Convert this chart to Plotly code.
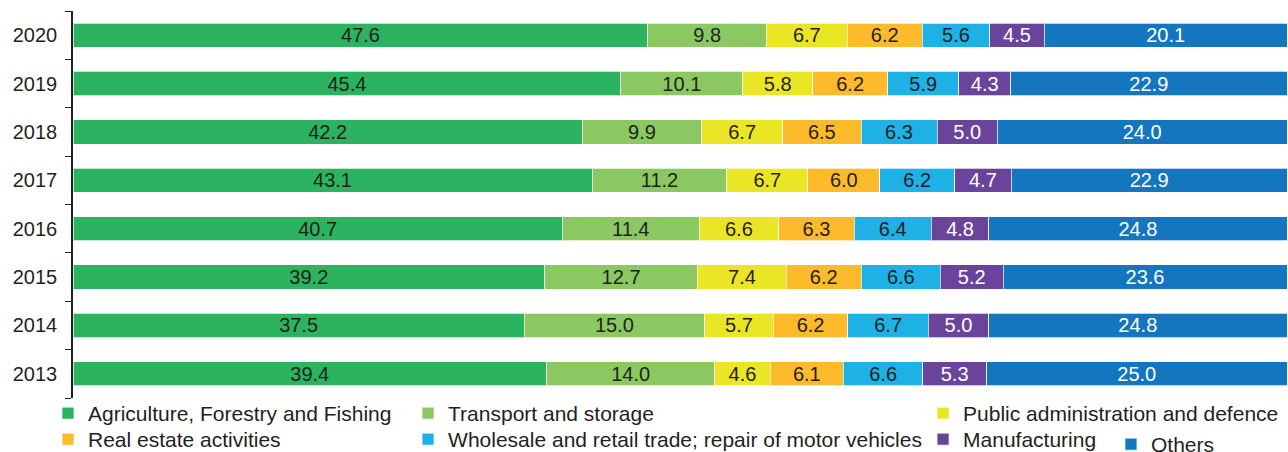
import plotly.graph_objects as go

years = ['2013', '2014', '2015', '2016', '2017', '2018', '2019', '2020']

agriculture = [39.4, 37.5, 39.2, 40.7, 43.1, 42.2, 45.4, 47.6]
transport = [14.0, 15.0, 12.7, 11.4, 11.2, 9.9, 10.1, 9.8]
public_admin = [4.6, 5.7, 7.4, 6.6, 6.7, 6.7, 5.8, 6.7]
real_estate = [6.1, 6.2, 6.2, 6.3, 6.0, 6.5, 6.2, 6.2]
wholesale = [6.6, 6.7, 6.6, 6.4, 6.2, 6.3, 5.9, 5.6]
manufacturing = [5.3, 5.0, 5.2, 4.8, 4.7, 5.0, 4.3, 4.5]
others = [25.0, 24.8, 23.6, 24.8, 22.9, 24.0, 22.9, 20.1]

series = [
    ('Agriculture, Forestry and Fishing', agriculture, '#2bb35f', '#231f20'),
    ('Transport and storage', transport, '#8bc862', '#231f20'),
    ('Public administration and defence', public_admin, '#ebe625', '#231f20'),
    ('Real estate activities', real_estate, '#fdba2b', '#231f20'),
    ('Wholesale and retail trade; repair of motor vehicles', wholesale, '#1eb1e6', '#231f20'),
    ('Manufacturing', manufacturing, '#6a449b', '#ffffff'),
    ('Others', others, '#1476bf', '#ffffff'),
]

# one legend per entry so each sits where it does in the original (paper coords)
legend_pos = [
    (-0.0206, 0.0129), (0.276, 0.0129), (0.7002, 0.0129),
    (-0.0206, -0.0543), (0.276, -0.0543), (0.7002, -0.0543),
    (0.855, -0.0672),
]

FONT = 'Liberation Sans, Arial, sans-serif'

fig = go.Figure()
legends = {}
for i, (name, vals, color, tcolor) in enumerate(series):
    leg = 'legend' if i == 0 else 'legend%d' % (i + 1)
    fig.add_trace(go.Bar(
        y=years, x=vals, name=name, orientation='h',
        marker=dict(color=color, line=dict(color='rgba(255,255,255,0.7)', width=1)),
        text=vals, texttemplate='%{text:.1f}', textposition='inside',
        insidetextanchor='middle', textangle=0, constraintext='none',
        textfont=dict(family=FONT, size=20, color=tcolor),
        legend=leg, hoverinfo='x+y+name',
    ))
    legends[leg] = dict(
        x=legend_pos[i][0], y=legend_pos[i][1],
        orientation='v', bgcolor='rgba(0,0,0,0)',
        font=dict(family=FONT, size=21, color='#231f20'),
        xanchor='left', yanchor='top', itemwidth=30,
        xref='paper', yref='paper',
    )

fig.update_layout(
    barmode='stack', barnorm='percent', bargap=0.5,
    width=1288, height=452,
    margin=dict(l=73, r=1, t=11, b=54, autoexpand=False),
    paper_bgcolor='white', plot_bgcolor='white',
    font=dict(family=FONT, size=20, color='#231f20'),
    xaxis=dict(visible=False, range=[0, 100], fixedrange=True),
    yaxis=dict(
        showline=True, linecolor='#231f20', linewidth=1.5,
        ticks='outside', tickson='boundaries', ticklen=6, tickcolor='#231f20',
        tickfont=dict(family=FONT, size=20, color='#231f20'),
        ticklabelstandoff=10, showgrid=False, fixedrange=True,
    ),
    showlegend=True,
    **legends,
)

fig.write_html("out.html", config={'displayModeBar': False},
               post_script="document.body.style.margin='0';")
